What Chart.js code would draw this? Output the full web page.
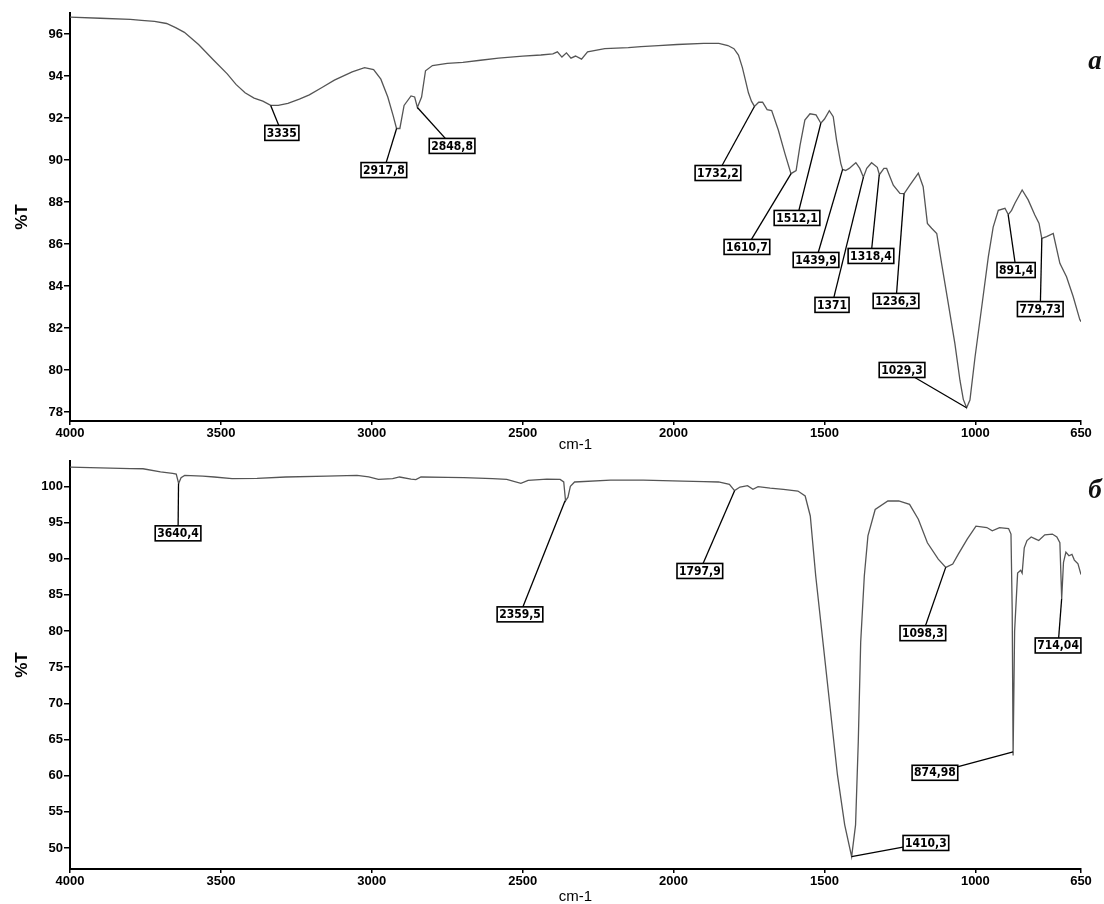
<!DOCTYPE html>
<html><head><meta charset="utf-8">
<script src="https://cdn.jsdelivr.net/npm/chart.js@4.4.1/dist/chart.umd.min.js"></script>
<style>
html,body{margin:0;padding:0;background:#fff;}
#wrap{position:relative;width:1104px;height:904px;background:#fff;}
.c{position:absolute;left:0;width:1104px;height:452px;}
</style></head><body>
<div id="wrap">
<div class="c" style="top:0"><canvas id="ca" width="1104" height="452"></canvas></div>
<div class="c" style="top:452px"><canvas id="cb" width="1104" height="452"></canvas></div>
</div>
<script>
// ---------- shared axis ticks ----------
const xTickValues = [4000, 3500, 3000, 2500, 2000, 1500, 1000, 650];
const aYTicks = [78, 80, 82, 84, 86, 88, 90, 92, 94, 96];
const bYTicks = [50, 55, 60, 65, 70, 75, 80, 85, 90, 95, 100];

// ---------- spectrum a ----------
const aWavenumber = [4000,3900,3800,3763,3720,3680,3650,3621,3574,3527,3479,3450,3420,3390,3361,3335,3310,3278,3240,3207,3165,3124,3065,3024,2994,2970,2947,2929,2918,2907,2893,2870,2858,2849,2835,2822,2799,2750,2698,2640,2580,2500,2440,2400,2385,2370,2355,2340,2325,2305,2285,2228,2150,2108,2050,1988,1900,1850,1820,1800,1785,1772,1762,1752,1742,1732,1718,1705,1690,1675,1653,1631,1611,1594,1581,1565,1548,1528,1512,1500,1484,1471,1460,1446,1440,1430,1418,1405,1396,1383,1371,1360,1344,1325,1318,1303,1294,1272,1250,1236,1217,1189,1173,1159,1145,1128,1112,1090,1068,1051,1040,1029,1018,1001,979,957,941,924,902,891,880,869,845,825,803,789,780,764,742,720,698,676,654,650];
const aTransmittance = [96.8,96.75,96.7,96.65,96.6,96.5,96.3,96.08,95.5,94.8,94.1,93.6,93.2,92.95,92.8,92.6,92.6,92.7,92.9,93.1,93.45,93.8,94.2,94.4,94.3,93.85,93.0,92.1,91.5,91.5,92.6,93.05,93.0,92.5,93.0,94.25,94.5,94.6,94.65,94.75,94.85,94.95,95.0,95.05,95.15,94.9,95.1,94.85,94.95,94.8,95.15,95.3,95.35,95.4,95.45,95.5,95.55,95.55,95.45,95.3,95.0,94.4,93.8,93.2,92.8,92.55,92.75,92.75,92.4,92.35,91.43,90.3,89.35,89.5,90.7,91.9,92.2,92.15,91.75,91.95,92.35,92.06,90.95,89.84,89.55,89.5,89.6,89.76,89.87,89.6,89.18,89.6,89.87,89.65,89.3,89.6,89.6,88.8,88.41,88.4,88.8,89.37,88.73,86.98,86.75,86.5,85.08,83.18,81.27,79.5,78.6,78.2,78.57,80.63,83.0,85.4,86.8,87.6,87.7,87.4,87.6,87.94,88.57,88.1,87.38,86.98,86.27,86.35,86.5,85.08,84.44,83.5,82.4,82.3];

// peak labels of spectrum a
const aPeakText = ['3335','2917,8','2848,8','1732,2','1610,7','1512,1','1439,9','1371','1318,4','1236,3','1029,3','891,4','779,73'];
const aPeakX    = [3335,2917.8,2848.8,1732.2,1610.7,1512.1,1439.9,1371,1318.4,1236.3,1029.3,891.4,779.73];
const aPeakY    = [92.6,91.5,92.5,92.55,89.35,91.75,89.55,89.18,89.3,88.4,78.2,87.4,86.27];
const aBoxX     = [3298,2960,2734,1853,1757,1591,1528,1475,1346,1263,1243,865,785];
const aBoxY     = [91.29,89.52,90.67,89.38,85.86,87.24,85.24,83.1,85.43,83.29,80.0,84.76,82.9];

// ---------- spectrum б ----------
const bWavenumber = [4000,3900,3800,3758,3700,3660,3648,3640,3632,3620,3560,3522,3463,3380,3285,3150,3049,3010,2978,2931,2908,2870,2854,2837,2750,2695,2600,2553,2506,2482,2420,2376,2364,2358,2350,2342,2328,2209,2100,1970,1900,1851,1815,1798,1780,1767,1755,1737,1720,1680,1636,1588,1564,1547,1529,1505,1481,1457,1433,1410,1397,1388,1380,1368,1356,1332,1290,1254,1218,1189,1159,1123,1098,1075,1057,1027,998,962,944,920,890,882,878,875,870,860,850,845,838,829,815,800,790,770,745,730,720,714,708,700,690,680,672,665,660,650];
const bTransmittance = [102.66,102.55,102.45,102.43,102.0,101.8,101.7,100.4,101.2,101.5,101.4,101.29,101.06,101.1,101.29,101.4,101.5,101.3,100.96,101.06,101.29,101.0,100.92,101.29,101.25,101.2,101.05,100.96,100.4,100.83,101.0,100.96,100.6,98.0,98.5,100.0,100.6,100.87,100.85,100.73,100.65,100.6,100.27,99.4,99.9,100.0,100.1,99.6,99.95,99.75,99.58,99.35,98.66,95.9,87.6,78.46,69.28,60.1,53.2,48.8,53.2,64.7,78.46,87.6,93.15,96.8,97.97,97.97,97.5,95.45,92.2,89.94,88.8,89.25,90.6,92.7,94.5,94.3,93.84,94.3,94.16,93.4,83.0,62.8,80.0,88.0,88.4,88.0,91.5,92.5,93.0,92.7,92.5,93.3,93.4,93.0,92.2,84.5,89.5,90.9,90.4,90.6,89.8,89.5,89.3,87.8];

// peak labels of spectrum б
const bPeakText = ['3640,4','2359,5','1797,9','1098,3','714,04','874,98','1410,3'];
const bPeakX    = [3640.4,2359.5,1797.9,1098.3,714.04,874.98,1410.3];
const bPeakY    = [100.4,98.0,99.4,88.8,84.5,63.3,48.8];
const bBoxX     = [3642,2509,1913,1174,726,1134,1164];
const bBoxY     = [93.5,82.3,88.3,79.7,78.0,60.4,50.7];

// ---------- drawing ----------
const LABEL_FONT = 'bold 12px "Liberation Sans Narrow", "DejaVu Sans Condensed", "Arial Narrow", sans-serif';
const TICK_FONT = {family: '"Liberation Sans", Arial, sans-serif', size: 13, weight: 'bold'};

const peakPlugin = {
  id: 'peaks',
  afterDatasetsDraw(chart, args, o) {
    const {ctx} = chart;
    const x = chart.scales.x, y = chart.scales.y;
    ctx.save();
    ctx.strokeStyle = '#000';
    ctx.lineWidth = 1.3;
    o.text.forEach((t, i) => {
      ctx.beginPath();
      ctx.moveTo(x.getPixelForValue(o.px[i]), y.getPixelForValue(o.py[i]));
      ctx.lineTo(x.getPixelForValue(o.bx[i]), y.getPixelForValue(o.by[i]));
      ctx.stroke();
    });
    ctx.font = LABEL_FONT;
    ctx.textAlign = 'center';
    ctx.textBaseline = 'middle';
    o.text.forEach((t, i) => {
      const cx = x.getPixelForValue(o.bx[i]), cy = y.getPixelForValue(o.by[i]);
      const w = ctx.measureText(t).width + 4, h = 15;
      ctx.fillStyle = '#fff';
      ctx.fillRect(cx - w / 2, cy - h / 2, w, h);
      ctx.lineWidth = 1.6;
      ctx.strokeRect(cx - w / 2, cy - h / 2, w, h);
      ctx.fillStyle = '#000';
      ctx.fillText(t, cx, cy + 0.5);
    });
    // panel letter
    ctx.font = 'italic bold 27px "Liberation Serif", "DejaVu Serif", serif';
    ctx.textAlign = 'center';
    ctx.fillStyle = '#111';
    ctx.fillText(o.letter, chart.chartArea.right + 14, chart.chartArea.top + o.letterDy);
    ctx.restore();
  }
};

function makeChart(id, xs, ys, yTicks, yMin, yMax, padTop, xAxisH, labels) {
  const pts = xs.map((v, i) => ({x: v, y: ys[i]}));
  return new Chart(document.getElementById(id), {
    type: 'line',
    data: {datasets: [{data: pts, borderColor: '#555', borderWidth: 1.3, pointRadius: 0, tension: 0, fill: false}]},
    options: {
      responsive: false, animation: false, devicePixelRatio: 1,
      layout: {padding: {top: padTop, right: 23, left: 0, bottom: 0}},
      plugins: {legend: {display: false}, tooltip: {enabled: false}, peaks: labels},
      scales: {
        x: {
          type: 'linear', min: 650, max: 4000, reverse: true,
          afterBuildTicks: s => { s.ticks = xTickValues.map(v => ({value: v})); },
          afterFit: s => { s.height = xAxisH; },
          ticks: {font: TICK_FONT, color: '#000', padding: 1, maxRotation: 0, autoSkip: false, callback: v => String(v)},
          grid: {display: true, drawOnChartArea: false, drawTicks: true, tickLength: 4, color: '#000', lineWidth: 1.5},
          border: {display: true, color: '#000', width: 2},
          title: {display: true, text: 'cm-1', color: '#000', font: {family: '"Liberation Sans", Arial, sans-serif', size: 15, lineHeight: 1}, padding: {top: 0, bottom: 0}}
        },
        y: {
          type: 'linear', min: yMin, max: yMax,
          afterBuildTicks: s => { s.ticks = yTicks.map(v => ({value: v})); },
          afterFit: s => { s.width = 70; },
          ticks: {font: TICK_FONT, color: '#000', padding: 1, callback: v => String(v)},
          grid: {display: true, drawOnChartArea: false, drawTicks: true, tickLength: 6, color: '#000', lineWidth: 1.5},
          border: {display: true, color: '#000', width: 2},
          title: {display: true, text: '%T', color: '#000', font: {family: '"Liberation Sans", Arial, sans-serif', size: 17, weight: 'bold', lineHeight: 1}, padding: {top: 14, bottom: 0}}
        }
      }
    },
    plugins: [peakPlugin]
  });
}

makeChart('ca', aWavenumber, aTransmittance, aYTicks, 77.57, 97.0, 13, 31,
  {text: aPeakText, px: aPeakX, py: aPeakY, bx: aBoxX, by: aBoxY, letter: 'a', letterDy: 49});
makeChart('cb', bWavenumber, bTransmittance, bYTicks, 47.1, 103.5, 9, 35,
  {text: bPeakText, px: bPeakX, py: bPeakY, bx: bBoxX, by: bBoxY, letter: 'б', letterDy: 30});
</script>
</body></html>
